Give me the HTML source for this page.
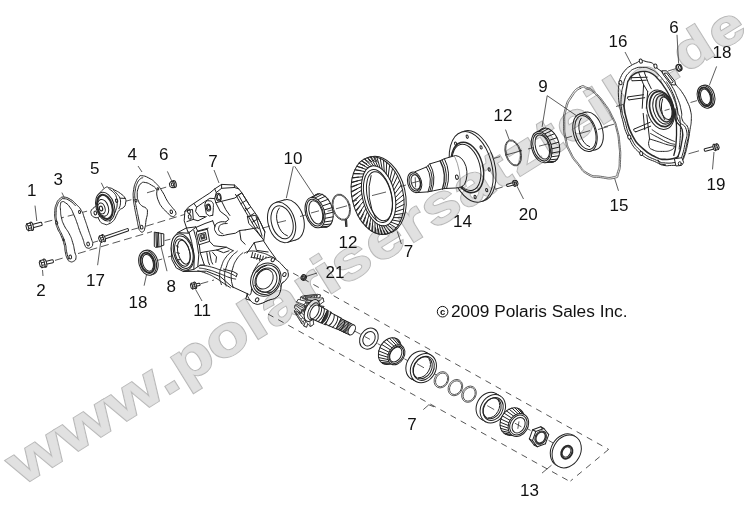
<!DOCTYPE html>
<html><head><meta charset="utf-8">
<style>
html,body{margin:0;padding:0;background:#fff;}
body{width:747px;height:505px;overflow:hidden;font-family:"Liberation Sans",sans-serif;}
svg{display:block}
.lb{font-family:"Liberation Sans",sans-serif;font-size:17px;fill:#111;text-anchor:middle}
.wmbase{font-family:"Liberation Sans",sans-serif;font-weight:bold;font-size:57px;vector-effect:non-scaling-stroke;stroke-linejoin:miter}
.wm{fill:#e1e1e1;stroke:#e1e1e1;stroke-width:0.2}
.wmo{fill:#b9b9b9;stroke:#b9b9b9;stroke-width:2.3}
.p{fill:none;stroke:#222;stroke-width:1;stroke-linecap:round;stroke-linejoin:round}
.pw{fill:#fff;stroke:#222;stroke-width:1;stroke-linejoin:round}
.ld{fill:none;stroke:#333;stroke-width:0.8}
.ds{fill:none;stroke:#444;stroke-width:0.9;stroke-dasharray:8 4}
.ds2{fill:none;stroke:#444;stroke-width:0.9;stroke-dasharray:6.2 5.4}
</style></head><body>
<svg width="747" height="505" viewBox="0 0 747 505">
<rect width="747" height="505" fill="#fff"/>
<!--PARTS-->
<g id="parts">
<line class="ds" x1="44.5" y1="222.3" x2="93.0" y2="209.6"/>
<line class="ds" x1="112.0" y1="204.8" x2="136.0" y2="198.5"/>
<line class="ds" x1="147.0" y1="192.8" x2="170.0" y2="186.0"/>
<line class="ds" x1="55.0" y1="260.4" x2="152.0" y2="231.6"/>
<line class="ds" x1="146.0" y1="226.2" x2="190.0" y2="212.8"/>
<line class="ds" x1="131.5" y1="229.8" x2="139.5" y2="227.6"/>
<line class="ds" x1="90.5" y1="243.2" x2="98.0" y2="241.0"/>
<line class="ds2" x1="283.0" y1="267.5" x2="608.6" y2="449.4"/>
<line class="ds2" x1="608.6" y1="449.4" x2="570.5" y2="481.0"/>
<line class="ds2" x1="268.0" y1="314.0" x2="569.0" y2="481.0"/>
<line class="ld" x1="35.0" y1="205.6" x2="36.8" y2="221.0"/>
<line class="ld" x1="42.5" y1="270.0" x2="43.0" y2="276.0"/>
<line class="ld" x1="61.9" y1="192.6" x2="64.2" y2="197.4"/>
<line class="ld" x1="97.6" y1="265.2" x2="100.7" y2="242.3"/>
<line class="ld" x1="101.3" y1="182.8" x2="104.0" y2="188.4"/>
<line class="ld" x1="138.0" y1="166.0" x2="142.0" y2="172.0"/>
<line class="ld" x1="167.4" y1="171.4" x2="171.7" y2="180.9"/>
<line class="ld" x1="214.0" y1="170.0" x2="219.0" y2="183.0"/>
<line class="ld" x1="167.0" y1="271.2" x2="161.0" y2="246.6"/>
<line class="ld" x1="144.1" y1="285.7" x2="146.5" y2="274.8"/>
<line class="ld" x1="202.0" y1="301.0" x2="195.6" y2="289.5"/>
<line class="ld" x1="293.3" y1="166.3" x2="286.3" y2="198.2"/>
<line class="ld" x1="294.7" y1="166.3" x2="314.0" y2="195.5"/>
<line class="ld" x1="346.0" y1="220.4" x2="346.5" y2="227.0"/>
<line class="ld" x1="317.0" y1="273.0" x2="306.0" y2="276.5"/>
<line class="ld" x1="401.4" y1="244.0" x2="397.3" y2="231.5"/>
<line class="ld" x1="505.5" y1="129.6" x2="509.3" y2="139.9"/>
<line class="ld" x1="523.5" y1="199.0" x2="517.0" y2="186.2"/>
<line class="ld" x1="547.2" y1="95.7" x2="542.1" y2="126.9"/>
<line class="ld" x1="547.2" y1="95.7" x2="579.9" y2="118.0"/>
<line class="ld" x1="618.5" y1="190.8" x2="614.6" y2="178.3"/>
<line class="ld" x1="625.0" y1="52.0" x2="631.5" y2="64.5"/>
<line class="ld" x1="677.0" y1="34.8" x2="678.6" y2="63.3"/>
<line class="ld" x1="716.6" y1="66.4" x2="709.3" y2="85.4"/>
<line class="ld" x1="712.5" y1="169.4" x2="714.0" y2="152.0"/>
<line class="ld" x1="423.3" y1="409.6" x2="428.8" y2="404.8"/>
<line class="ld" x1="428.8" y1="404.8" x2="434.0" y2="406.8"/>
<line class="ld" x1="542.0" y1="473.1" x2="551.5" y2="465.2"/>
<g transform="translate(29.6,226.8) rotate(-14)">
<rect class="pw" x="2.2" y="-1.7" width="10.5" height="3.4" rx="0.8"/>
<ellipse class="pw" cx="2.0" cy="0" rx="1.7" ry="4.3"/>
<path class="pw" d="M-3.3 -1.9 L-1.9 -3.7 L1.7 -3.5 L1.7 3.5 L-1.9 3.7 L-3.3 1.9 Z"/>
<path class="p" d="M-1.9 -3.7 L-1.3 -1.1 L-1.3 1.5 L-1.9 3.7 M-1.3 -1.1 L1.7 -1.1 M-1.3 1.5 L1.7 1.5"/>
</g>
<g transform="translate(42.9,263.6) rotate(-14)">
<rect class="pw" x="2.2" y="-1.5" width="8.5" height="3.0" rx="0.8"/>
<ellipse class="pw" cx="2.0" cy="0" rx="1.7" ry="4.3"/>
<path class="pw" d="M-3.3 -1.9 L-1.9 -3.7 L1.7 -3.5 L1.7 3.5 L-1.9 3.7 L-3.3 1.9 Z"/>
<path class="p" d="M-1.9 -3.7 L-1.3 -1.1 L-1.3 1.5 L-1.9 3.7 M-1.3 -1.1 L1.7 -1.1 M-1.3 1.5 L1.7 1.5"/>
</g>
<path class="pw" d="M63.5 197.1 C66.7 197.3 66.5 197.2 70.3 199.3 C74.1 201.5 72.9 201.1 76.2 204.4 C79.5 207.7 78.7 206.0 81.2 210.3 C83.8 214.6 82.6 213.1 84.6 218.7 C86.6 224.3 86.0 222.8 88.0 228.8 C90.0 234.9 89.9 234.4 91.4 238.9 C92.8 243.5 92.9 241.5 92.7 244.0 C92.5 246.5 92.5 246.2 90.8 247.4 C89.2 248.5 89.0 248.6 87.1 247.9 C85.3 247.2 86.0 247.7 84.8 245.0 C83.5 242.3 84.5 243.3 82.9 238.9 C81.4 234.6 81.3 235.3 79.6 230.5 C77.8 225.7 78.8 227.7 77.0 222.9 C75.3 218.1 75.7 219.0 73.7 214.5 C71.6 209.9 72.7 211.2 70.3 207.8 C67.9 204.3 68.1 204.6 65.6 202.9 C63.0 201.1 63.4 201.3 61.9 201.9 C60.3 202.4 60.9 202.0 60.5 204.6 C60.1 207.1 60.2 206.3 60.5 210.3 C60.8 214.3 60.4 213.3 61.5 217.9 C62.6 222.4 61.9 220.6 64.2 225.5 C66.5 230.3 66.7 228.8 69.3 233.9 C71.8 238.9 71.0 237.0 72.6 242.3 C74.3 247.6 73.7 247.0 74.7 251.6 C75.7 256.1 76.3 254.6 76.0 257.5 C75.7 260.4 75.6 260.1 73.7 261.2 C71.7 262.3 71.5 262.2 69.4 261.2 C67.4 260.2 68.2 260.7 66.9 257.8 C65.6 254.9 66.1 255.7 65.2 251.6 C64.4 247.4 65.3 248.8 64.0 244.0 C62.8 239.2 62.9 240.1 61.0 235.6 C59.1 231.0 59.3 233.1 57.6 228.8 C56.0 224.5 56.3 226.3 55.5 221.2 C54.6 216.2 54.5 217.3 54.8 212.0 C55.1 206.7 54.9 207.5 56.5 203.5 C58.0 199.6 57.7 200.7 59.8 198.8 C62.0 196.9 60.4 197.0 63.5 197.1 Z" />
<path class="p" d="M68.6 259.2 C68.0 256.9 67.5 256.1 66.6 251.6 C65.6 247.0 66.7 248.8 65.4 244.0 C64.1 239.2 64.3 240.2 62.4 235.6 C60.4 230.9 60.7 232.8 59.0 228.5 C57.3 224.2 57.7 226.1 56.8 221.2 C55.9 216.4 55.9 217.3 56.1 212.3 C56.4 207.3 56.3 208.2 57.6 204.6 C59.0 200.9 58.8 201.9 60.7 200.2 C62.5 198.4 61.1 198.5 63.9 198.7 C66.7 198.9 66.5 198.8 69.9 200.8 C73.4 202.9 73.7 204.1 75.3 205.6" />
<ellipse class="pw" cx="70.3" cy="257.0" rx="1.3" ry="1.9" transform="rotate(-15 70.3 257.0)" />
<ellipse class="pw" cx="88.1" cy="244.0" rx="1.3" ry="1.9" transform="rotate(-15 88.1 244.0)" />
<ellipse class="pw" cx="79.6" cy="212.0" rx="1.0" ry="1.5" transform="rotate(-15 79.6 212.0)" />
<ellipse class="pw" cx="56.8" cy="222.8" rx="0.9" ry="1.4" transform="rotate(-15 56.8 222.8)" />
<ellipse class="pw" cx="63.5" cy="239.9" rx="0.6" ry="0.9" transform="rotate(-15 63.5 239.9)" />
<path class="pw" d="M104.5 188.3 C107.6 185.8 107.1 187.4 109.8 187.9 C112.4 188.4 111.7 188.5 114.5 190.0 C117.4 191.5 117.6 191.3 120.4 193.4 C123.2 195.6 123.6 195.5 125.0 198.0 C126.4 200.5 125.9 200.5 125.6 203.0 C125.3 205.4 125.5 205.2 123.9 207.1 C122.2 209.1 121.3 208.0 119.3 210.2 C117.3 212.4 118.0 212.6 116.4 215.3 C114.9 218.1 115.6 218.2 113.6 220.5 C111.5 222.8 111.2 222.9 108.8 223.9 C106.4 224.9 107.1 225.1 104.5 224.1 C102.0 223.1 101.2 223.7 99.3 220.1 C97.4 216.5 97.6 216.7 97.4 210.6 C97.1 204.5 96.4 203.2 98.3 197.2 C100.2 191.3 101.5 190.8 104.5 188.3 Z" />
<path class="p" d="M108.8 188.7 C110.1 189.7 111.5 190.2 113.6 192.5 C115.6 194.8 115.5 194.2 116.4 197.2 C117.4 200.3 117.4 200.3 117.2 203.9 C117.0 207.5 116.9 207.0 115.7 210.6 C114.4 214.1 114.2 214.2 112.6 217.2 C111.0 220.3 110.4 220.7 109.6 222.0" />
<path class="p" d="M113.6 190.4 C114.6 191.4 115.7 192.3 117.4 194.4 C119.1 196.5 119.0 195.7 119.9 198.2 C120.7 200.7 120.7 201.1 120.4 203.9 C120.2 206.7 119.3 207.4 118.9 208.7" />
<ellipse class="p" cx="116.6" cy="200.7" rx="1.1" ry="1.7" transform="rotate(-16 116.6 200.7)" />
<path class="p" d="M120.4 198.2 L125.2 198.4" />
<path class="pw" d="M96.4 205.8 C95.2 206.8 93.3 207.6 91.9 209.6 C90.4 211.7 90.6 211.5 91.1 213.4 C91.6 215.4 91.6 215.8 93.6 216.9 C95.5 217.9 96.6 218.1 98.3 217.4 C100.1 216.8 99.7 215.2 100.2 214.4" />
<ellipse class="p" cx="95.3" cy="213.0" rx="1.3" ry="1.9" transform="rotate(-16 95.3 213.0)" />
<ellipse class="pw" cx="105.2" cy="206.6" rx="9.2" ry="14.6" transform="rotate(-16 105.2 206.6)" />
<ellipse class="p" cx="104.9" cy="206.9" rx="7.4" ry="12.4" transform="rotate(-16 104.9 206.9)" style="stroke-width:2.1;stroke:#2a2a2a"/>
<ellipse class="pw" cx="103.0" cy="207.8" rx="5.4" ry="8.6" transform="rotate(-16 103.0 207.8)" />
<ellipse class="p" cx="101.6" cy="208.4" rx="3.4" ry="5.6" transform="rotate(-16 101.6 208.4)" />
<ellipse class="p" cx="101.0" cy="208.6" rx="1.6" ry="2.4" transform="rotate(-16 101.0 208.6)" style="stroke-width:1.2"/>
<path class="pw" d="M141.7 175.7 C144.5 176.0 144.8 175.8 148.8 178.0 C152.9 180.2 152.2 179.6 156.0 183.4 C159.7 187.2 158.9 186.3 162.2 191.4 C165.5 196.4 164.5 196.4 167.5 201.2 C170.6 206.0 170.6 205.2 172.9 208.3 C175.2 211.4 175.2 210.0 175.7 212.1 C176.3 214.1 176.1 214.5 174.8 215.6 C173.6 216.8 173.4 217.0 171.3 216.2 C169.2 215.4 170.1 215.3 167.5 212.8 C165.0 210.3 164.7 210.7 162.2 207.4 C159.7 204.2 160.1 204.7 158.6 201.2 C157.1 197.7 157.5 198.3 156.8 195.0 C156.2 191.6 157.8 192.0 156.3 189.3 C154.8 186.5 154.6 187.1 151.5 185.2 C148.4 183.2 148.2 183.0 145.3 182.5 C142.3 182.0 143.1 181.9 141.2 183.4 C139.2 184.9 139.4 184.5 138.3 187.8 C137.2 191.1 137.2 191.2 137.2 195.0 C137.3 198.7 137.2 198.2 138.5 201.2 C139.7 204.2 139.5 203.6 141.7 205.7 C143.9 207.7 144.5 206.3 146.1 208.3 C147.8 210.3 147.4 209.5 147.4 212.8 C147.4 216.1 146.9 215.6 146.1 219.9 C145.4 224.2 145.8 224.6 144.9 227.9 C144.0 231.3 144.4 230.8 143.1 231.7 C141.8 232.6 141.6 232.5 140.3 231.1 C139.0 229.8 139.5 230.7 138.5 227.0 C137.5 223.4 137.8 223.7 136.7 218.1 C135.6 212.6 135.5 213.0 134.6 207.4 C133.6 201.9 133.6 203.6 133.3 198.5 C133.1 193.5 132.9 194.4 133.7 189.6 C134.4 184.8 134.5 185.1 136.0 181.6 C137.5 178.1 137.4 178.8 139.0 177.1 C140.6 175.5 138.9 175.5 141.7 175.7 Z" />
<path class="p" d="M140.6 228.8 C140.0 225.8 139.7 224.2 138.5 218.1 C137.3 212.1 137.4 213.0 136.3 207.4 C135.3 201.9 135.2 203.5 134.9 198.5 C134.6 193.6 134.6 194.4 135.3 190.0 C136.0 185.5 136.0 186.0 137.4 182.8 C138.8 179.7 138.8 180.3 140.3 178.9 C141.8 177.5 142.1 178.1 142.8 177.8" />
<ellipse class="pw" cx="136.0" cy="200.7" rx="0.9" ry="1.4" transform="rotate(-15 136.0 200.7)" />
<ellipse class="pw" cx="141.7" cy="227.2" rx="1.3" ry="1.9" transform="rotate(-15 141.7 227.2)" />
<ellipse class="pw" cx="171.3" cy="211.7" rx="1.2" ry="1.8" transform="rotate(-15 171.3 211.7)" />
<ellipse class="pw" cx="157.9" cy="188.9" rx="0.8" ry="1.2" transform="rotate(-15 157.9 188.9)" />
<g transform="translate(172.6,184.4) rotate(-14)">
<ellipse class="pw" cx="1.2" cy="0" rx="2.5" ry="3.6"/>
<path class="pw" d="M-3.0 -1.5 L-1.2 -3.1 L1.6 -2.6 L2.3 0 L1.6 2.6 L-1.2 3.1 L-3.0 1.5 Z"/>
<ellipse class="p" cx="-0.2" cy="0" rx="1.1" ry="1.6"/>
</g>
<g transform="translate(101.9,238.7) rotate(-19)">
<rect class="pw" x="2.0" y="-1.3" width="26.0" height="2.6" rx="0.8"/>
<ellipse class="pw" cx="1.8" cy="0" rx="1.5" ry="3.8"/>
<path class="pw" d="M-3.0 -1.6 L-1.6 -3.3 L1.5 -3.1 L1.5 3.1 L-1.6 3.3 L-3.0 1.6 Z"/>
<path class="p" d="M-1.6 -3.3 L-1.2 -1.0 L-1.2 1.3 L-1.6 3.3 M-1.2 -1.0 L1.5 -1.0 M-1.2 1.3 L1.5 1.3"/>
</g>
<path class="pw" d="M154.3 232.1 L163.8 233.9 L163.8 245.2 L159.7 246.6 L155.5 247.3 L154.3 246.4 Z" />
<line class="p" x1="155.9" y1="232.6" x2="156.4" y2="247.1"/>
<line class="p" x1="157.1" y1="232.6" x2="157.6" y2="247.1"/>
<line class="p" x1="158.5" y1="232.6" x2="159.0" y2="247.1"/>
<line class="p" x1="161.1" y1="233.6" x2="161.4" y2="246.1"/>
<line class="ld" x1="164.6" y1="240.6" x2="170.4" y2="239.2"/>
<ellipse class="pw" cx="149.2" cy="262.4" rx="8.6" ry="12.6" transform="rotate(-16 149.2 262.4)" />
<ellipse class="pw" cx="147.6" cy="262.8" rx="8.6" ry="12.6" transform="rotate(-16 147.6 262.8)" />
<ellipse class="p" cx="147.6" cy="262.8" rx="6.7" ry="10.3" transform="rotate(-16 147.6 262.8)" style="stroke-width:2.0;stroke:#2a2a2a"/>
<ellipse class="p" cx="147.9" cy="262.8" rx="5.2" ry="8.6" transform="rotate(-16 147.9 262.8)" />
<line class="ld" x1="156.8" y1="260.6" x2="162.2" y2="259.0"/>
<line class="ld" x1="168.0" y1="257.0" x2="171.6" y2="256.0"/>
<path class="pw" d="M214.7 188.9 L221.6 184.4 L234.4 185.0 L238.8 188.9 L241.8 192.8 L249.3 204.8 L257.7 216.6 L264.9 231.9 L263.8 240.2 L263.4 240.7 L268.9 249.0 L275.9 258.7 L274.0 258.8 L283.7 266.9 L288.1 273.9 L285.2 280.3 L281.4 284.0 L280.3 291.4 L276.2 297.4 L268.1 300.3 L260.6 303.6 L255.4 303.6 L250.2 300.3 L247.3 293.7 L231.5 286.4 L220.4 276.7 L206.6 271.2 L183.3 271.5 L176.3 268.0 L171.9 259.7 L171.1 248.6 L172.9 238.9 L177.7 232.6 L188.3 233.2 L184.2 220.8 L184.9 211.3 L188.3 207.2 L193.9 203.4 L202.2 197.9 L209.8 193.0 Z" />
<ellipse class="pw" cx="182.6" cy="252.0" rx="10.8" ry="18.6" transform="rotate(-14 182.6 252.0)" />
<ellipse class="p" cx="183.2" cy="252.2" rx="9.4" ry="16.6" transform="rotate(-14 183.2 252.2)" />
<ellipse class="p" cx="182.4" cy="252.6" rx="7.3" ry="14.0" transform="rotate(-14 182.4 252.6)" />
<ellipse class="p" cx="183.8" cy="252.2" rx="5.8" ry="12.2" transform="rotate(-14 183.8 252.2)" />
<path class="p" d="M177.7 232.6 L186.0 228.1 L195.7 226.9" />
<path class="p" d="M188.8 231.7 L191.6 241.6 L194.3 256.9 L193.8 269.4" />
<path class="p" d="M193.8 230.3 L196.6 240.3 L198.8 254.8 L197.8 266.6" />
<path class="p" d="M183.3 271.5 L193.8 269.4 L200.2 265.2 L204.3 264.9" />
<path class="p" d="M195.7 226.9 L197.7 231.1 L208.2 228.1" />
<path class="p" d="M176.3 245.8 L178.4 246.9" />
<path class="p" d="M176.9 252.7 L179.4 253.3" />
<path class="p" d="M177.7 259.7 L179.9 259.7" />
<path class="p" d="M196.6 231.9 L207.4 229.2 L209.6 241.4 L199.3 244.7 Z" />
<path class="p" d="M198.8 234.2 L205.4 232.5 L206.8 239.4 L200.5 241.4 Z" />
<path d="M200.2 235.0 L204.3 233.9 L205.2 238.3 L201.3 239.4 Z" fill="#444" stroke="#222" stroke-width="0.6"/>
<path d="M201.6 235.5 L202.9 235.3 L203.2 236.6 L201.8 236.9 Z" fill="#fff" stroke="none"/>
<path class="p" d="M199.3 244.7 L200.2 252.7 L204.3 264.9" />
<path class="p" d="M209.6 241.4 L213.8 245.8 L226.2 247.2 L233.2 250.7" />
<path class="p" d="M200.2 252.7 L208.2 251.3 L216.5 250.0 L226.2 247.2" />
<path class="p" d="M206.8 252.7 L208.2 261.3 L209.6 264.9" />
<path class="p" d="M209.6 252.5 L211.3 261.3 L212.7 264.1" />
<path class="p" d="M212.7 252.5 L216.5 256.9 L215.8 262.4" />
<path class="p" d="M216.5 250.0 L223.5 252.7 L229.0 250.8" />
<path class="p" d="M200.2 265.2 C202.8 265.6 203.8 265.2 209.6 266.6 C215.4 268.0 214.8 268.1 220.7 270.1 C226.6 272.0 226.0 271.7 230.4 273.5 C234.8 275.4 234.6 275.7 236.2 276.6" />
<path class="p" d="M199.2 268.0 C201.8 268.5 202.5 268.1 208.2 269.7 C213.9 271.2 213.4 271.3 219.3 273.5 C225.2 275.7 224.4 275.8 229.0 277.4 C233.7 279.0 233.8 278.6 235.7 279.1" />
<path class="p" d="M236.2 276.6 L237.3 273.8 L233.2 271.6 L223.5 269.1" />
<path class="p" d="M197.8 270.8 C200.4 271.5 201.9 271.6 206.8 273.5 C211.7 275.5 210.4 274.9 215.2 277.7 C219.9 280.4 219.1 280.4 223.5 283.2 C227.8 286.1 228.4 286.4 230.4 287.7" />
<path class="p" d="M233.2 250.7 C231.2 252.4 229.6 252.4 226.2 256.9 C222.9 261.4 223.3 261.1 221.4 266.6 C219.5 272.1 219.6 271.2 219.6 276.3 C219.6 281.4 220.9 282.3 221.4 284.6" />
<path class="p" d="M237.3 251.3 C235.5 253.2 233.8 253.2 230.7 257.7 C227.5 262.3 228.0 262.1 226.2 267.4 C224.5 272.8 224.6 271.3 224.6 276.6 C224.6 281.9 225.8 283.3 226.2 286.0" />
<path class="p" d="M242.9 252.7 C241.2 254.5 239.7 254.6 236.8 259.1 C233.9 263.7 234.2 263.5 232.6 268.8 C231.1 274.2 231.1 272.6 231.2 278.0 C231.4 283.3 232.6 284.9 233.2 287.7" />
<path class="p" d="M214.7 188.9 L216.3 192.5 L221.6 188.3 L234.4 187.5 L238.8 188.9" />
<path class="p" d="M216.3 192.5 L214.7 198.6 L215.8 202.7 L221.6 201.3 L234.9 198.0 L241.8 192.8" />
<path class="p" d="M221.6 188.3 L221.6 184.4" />
<path class="p" d="M234.4 187.5 L234.4 185.0" />
<ellipse class="pw" cx="218.6" cy="197.2" rx="2.5" ry="3.9" transform="rotate(-12 218.6 197.2)" />
<ellipse class="p" cx="218.9" cy="197.2" rx="1.5" ry="2.7" transform="rotate(-12 218.9 197.2)" />
<ellipse class="pw" cx="208.4" cy="207.6" rx="2.2" ry="3.5" transform="rotate(-12 208.4 207.6)" />
<ellipse class="p" cx="208.7" cy="207.6" rx="1.3" ry="2.3" transform="rotate(-12 208.7 207.6)" />
<path class="p" d="M205.0 205.8 C205.2 204.7 204.6 203.5 205.8 202.0 C207.0 200.6 207.2 200.6 209.1 200.8 C211.1 201.0 211.5 200.8 212.7 202.7 C213.9 204.7 213.3 204.2 213.3 207.7 C213.3 211.3 212.9 213.1 212.7 215.2" />
<path class="p" d="M205.0 205.8 L206.3 213.8 L209.4 216.0 L212.7 215.2" />
<path class="p" d="M193.9 203.4 L196.6 207.2 L202.2 203.4 L209.8 198.3 L214.7 198.6" />
<path class="p" d="M196.6 207.2 L195.5 211.3 L199.4 216.6 L205.0 216.6" />
<ellipse class="pw" cx="188.9" cy="211.3" rx="1.4" ry="2.3" transform="rotate(-12 188.9 211.3)" />
<ellipse class="pw" cx="189.7" cy="216.9" rx="1.4" ry="2.3" transform="rotate(-12 189.7 216.9)" />
<path class="p" d="M184.9 211.3 L192.5 209.4 L193.3 219.4 L186.9 221.6" />
<path class="p" d="M188.3 233.2 L195.3 227.7 L205.0 223.5 L212.7 220.8" />
<path class="p" d="M193.3 219.4 L198.0 220.8 L206.3 216.6" />
<path class="p" d="M225.8 221.9 C223.8 222.0 221.9 221.1 218.8 222.4 C215.8 223.8 215.8 223.8 214.9 226.6 C214.1 229.3 214.3 229.6 215.8 232.1 C217.3 234.6 217.0 234.8 220.2 235.5 C223.4 236.2 225.2 234.9 227.2 234.6" />
<path class="p" d="M227.2 223.5 C225.6 223.8 224.0 223.2 221.6 224.4 C219.2 225.5 219.4 225.7 218.8 227.7 C218.3 229.7 218.5 229.9 219.7 231.6 C220.8 233.3 222.0 233.2 223.0 233.8" />
<path class="p" d="M215.8 202.7 L220.2 211.3 L227.2 216.6 L228.8 219.4 L225.8 221.9" />
<path class="p" d="M221.6 201.3 L225.8 209.7 L229.9 215.5" />
<path class="p" d="M227.2 234.6 L235.5 233.2 L239.6 230.5 L245.2 229.9" />
<path class="p" d="M212.7 220.8 L214.9 226.6" />
<path class="p" d="M235.5 194.4 L242.7 206.9 L249.3 218.0 L256.0 229.4 L261.8 237.7" />
<path class="p" d="M238.8 195.8 L246.0 208.0 L252.7 219.1 L258.5 228.8" />
<path class="p" d="M241.8 192.8 L249.3 204.8" />
<path class="p" d="M236.6 195.8 L241.0 193.3" />
<path class="p" d="M241.0 203.6 L246.0 200.5" />
<path class="p" d="M245.2 210.5 L250.4 207.2" />
<path class="p" d="M248.8 216.6 L254.3 213.3" />
<path class="p" d="M252.1 222.4 L257.9 218.8" />
<path class="p" d="M245.2 208.3 L247.4 209.9" />
<path class="p" d="M252.1 219.4 L254.3 221.0" />
<path class="p" d="M247.4 216.6 L256.0 215.2 L260.4 222.2 L264.9 231.9" />
<path class="p" d="M247.4 216.6 L248.8 223.5 L254.9 229.4 L261.8 237.7 L263.8 240.2" />
<path class="p" d="M256.0 216.6 L262.1 236.0" />
<path class="p" d="M239.6 230.5 L241.0 240.2 L245.2 244.3" />
<path class="p" d="M245.2 229.9 L257.7 227.7" />
<path class="p" d="M263.4 240.7 L254.2 242.6 L247.0 253.1" />
<path class="p" d="M254.2 242.6 L256.5 250.4 L268.1 252.0" />
<path class="p" d="M244.3 253.1 C246.2 252.5 246.5 251.2 251.1 251.0 C255.8 250.9 255.8 251.3 260.6 252.5 C265.5 253.7 264.6 253.4 268.4 255.2 C272.2 257.0 272.4 257.8 274.0 258.8" />
<path class="p" d="M252.6 252.5 L251.4 257.3" />
<path class="p" d="M255.3 253.4 L254.1 258.3" />
<path class="p" d="M258.0 254.3 L256.8 259.4" />
<path class="p" d="M260.6 255.2 L259.5 260.4" />
<path class="p" d="M263.3 256.1 L262.1 261.4" />
<path class="p" d="M266.0 257.0 L264.8 262.5" />
<path class="p" d="M251.1 257.3 C253.4 257.7 254.8 257.6 259.2 258.8 C263.5 259.9 264.5 260.7 266.6 261.4" />
<path class="pw" d="M269.6 257.3 C273.0 256.9 271.1 256.2 274.9 258.8 C278.7 261.3 280.3 262.7 283.8 266.8 C287.4 270.8 287.8 270.3 288.3 273.9 C288.7 277.5 287.4 277.5 285.6 280.2 C283.8 282.8 282.9 281.0 281.4 284.0 C280.0 287.0 281.6 287.9 280.3 291.4 C278.9 295.0 279.6 295.0 276.4 297.4 C273.2 299.8 272.6 298.7 268.4 300.3 C264.2 302.0 264.1 302.7 260.6 303.6 C257.2 304.6 258.4 304.8 255.6 303.9 C252.8 303.0 252.5 303.0 250.2 300.3 C248.0 297.7 247.2 295.4 247.3 293.8 C247.4 292.2 249.4 296.6 250.5 294.4 C251.7 292.2 251.3 290.3 251.7 285.5 C252.1 280.7 250.8 281.7 252.0 276.6 C253.2 271.5 253.5 270.8 256.2 266.5 C258.9 262.1 258.6 262.7 262.1 260.2 C265.7 257.8 266.2 257.7 269.6 257.3 Z" />
<ellipse class="pw" cx="265.8" cy="279.6" rx="14.6" ry="17.2" transform="rotate(29.35 265.8 279.6)" />
<ellipse class="p" cx="266.2" cy="279.8" rx="12.8" ry="15.2" transform="rotate(29.35 266.2 279.8)" />
<ellipse class="p" cx="266.0" cy="280.2" rx="10.4" ry="12.6" transform="rotate(29.35 266.0 280.2)" />
<ellipse class="p" cx="264.6" cy="279.2" rx="8.0" ry="10.4" transform="rotate(29.35 264.6 279.2)" />
<path class="p" d="M254.7 285.5 Q260.6 294.4 271.0 292.2" />
<path class="p" d="M256.9 272.1 Q259.9 266.9 266.6 265.4" />
<ellipse class="pw" cx="284.4" cy="274.5" rx="1.6" ry="2.1" transform="rotate(29.35 284.4 274.5)" />
<ellipse class="pw" cx="257.1" cy="299.8" rx="1.6" ry="2.1" transform="rotate(29.35 257.1 299.8)" />
<ellipse class="pw" cx="272.8" cy="259.7" rx="1.6" ry="2.1" transform="rotate(29.35 272.8 259.7)" />
<path class="p" d="M247.3 293.8 L245.8 298.9 L250.2 300.3" />
<g transform="translate(193.4,285.8) rotate(-14)">
<rect class="pw" x="1.8" y="-1.2" width="5.0" height="2.4" rx="0.8"/>
<ellipse class="pw" cx="1.7" cy="0" rx="1.4" ry="3.4"/>
<path class="pw" d="M-2.7 -1.5 L-1.5 -3.0 L1.4 -2.8 L1.4 2.8 L-1.5 3.0 L-2.7 1.5 Z"/>
<path class="p" d="M-1.5 -3.0 L-1.0 -0.9 L-1.0 1.2 L-1.5 3.0 M-1.0 -0.9 L1.4 -0.9 M-1.0 1.2 L1.4 1.2"/>
</g>
<line class="ds" x1="200.5" y1="283.8" x2="214.0" y2="280.0"/>
<ellipse class="pw" cx="290.2" cy="219.9" rx="13.4" ry="20.8" transform="rotate(-16.3 290.2 219.9)" />
<path d="M287.4 242.4 L296.1 239.8 L284.4 199.9 L275.8 202.4 Z" fill="#fff" stroke="none"/>
<line class="p" x1="287.4" y1="242.4" x2="296.1" y2="239.8"/>
<line class="p" x1="275.8" y1="202.4" x2="284.4" y2="199.9"/>
<ellipse class="pw" cx="281.6" cy="222.4" rx="13.4" ry="20.8" transform="rotate(-16.3 281.6 222.4)" />
<ellipse class="p" cx="282.1" cy="222.3" rx="10.5" ry="16.9" transform="rotate(-16.3 282.1 222.3)" />
<path class="p" d="M279.3 208.0 A9.7 15.7 -16.3 0 0 287.4 235.8"/>
<line class="ld" x1="270.0" y1="226.0" x2="262.0" y2="228.3"/>
<line class="ld" x1="277.0" y1="222.8" x2="286.0" y2="220.6"/>
<ellipse class="pw" cx="322.2" cy="210.5" rx="10.3" ry="17.2" transform="rotate(-16.3 322.2 210.5)" />
<path d="M319.4 227.6 L327.0 227.0 L317.4 194.0 L310.6 197.6 Z" fill="#fff" stroke="none"/>
<line class="p" x1="319.4" y1="227.6" x2="327.0" y2="227.0"/>
<line class="p" x1="310.6" y1="197.6" x2="317.4" y2="194.0"/>
<line class="p" x1="312.3" y1="197.4" x2="319.2" y2="193.8"/>
<line class="p" x1="315.0" y1="198.0" x2="322.2" y2="194.4"/>
<line class="p" x1="317.8" y1="199.7" x2="325.3" y2="196.3"/>
<line class="p" x1="320.3" y1="202.4" x2="328.1" y2="199.3"/>
<line class="p" x1="322.5" y1="205.9" x2="330.4" y2="203.2"/>
<line class="p" x1="324.0" y1="210.0" x2="332.1" y2="207.6"/>
<line class="p" x1="324.9" y1="214.2" x2="333.1" y2="212.2"/>
<line class="p" x1="325.0" y1="218.3" x2="333.2" y2="216.8"/>
<line class="p" x1="324.3" y1="222.0" x2="332.4" y2="220.8"/>
<line class="p" x1="322.9" y1="224.9" x2="330.9" y2="224.0"/>
<line class="p" x1="320.9" y1="226.9" x2="328.7" y2="226.2"/>
<ellipse class="pw" cx="315.0" cy="212.6" rx="9.4" ry="15.6" transform="rotate(-16.3 315.0 212.6)" />
<ellipse class="p" cx="315.0" cy="212.6" rx="8.0" ry="13.8" transform="rotate(-16.3 315.0 212.6)" />
<ellipse class="p" cx="315.8" cy="212.4" rx="6.4" ry="12.0" transform="rotate(-16.3 315.8 212.4)" />
<line class="ld" x1="300.0" y1="216.5" x2="306.0" y2="214.8"/>
<line class="ld" x1="311.0" y1="213.0" x2="319.0" y2="210.8"/>
<ellipse class="p" cx="341.3" cy="207.2" rx="8.8" ry="13.4" transform="rotate(-16.3 341.3 207.2)" style="stroke-width:0.8;stroke:#333"/>
<ellipse class="p" cx="341.3" cy="207.2" rx="7.9" ry="12.5" transform="rotate(-16.3 341.3 207.2)" style="stroke-width:0.8;stroke:#333"/>
<path class="p" d="M345.2 219.6 L345.8 226.6 M346.6 219.4 L347 226.4" />
<line class="ld" x1="336.0" y1="208.8" x2="347.0" y2="205.8"/>
<line class="ld" x1="327.5" y1="211.2" x2="332.0" y2="210.0"/>
<ellipse class="pw" cx="379.7" cy="195.1" rx="25.6" ry="39.4" transform="rotate(-13 379.7 195.1)" />
<ellipse class="pw" cx="377.6" cy="195.6" rx="25.6" ry="39.4" transform="rotate(-13 377.6 195.6)" />
<ellipse class="p" cx="378.6" cy="195.8" rx="16.2" ry="30.6" transform="rotate(-13 378.6 195.8)" />
<ellipse class="p" cx="378.0" cy="196.0" rx="13.6" ry="27.0" transform="rotate(-13 378.0 196.0)" />
<ellipse class="p" cx="379.4" cy="196.2" rx="12.0" ry="25.0" transform="rotate(-13 379.4 196.2)" />
<path class="p" d="M371.1 175.6 Q364.6 197.6 376.6 220.6" />
<line class="p" x1="402.5" y1="189.8" x2="395.4" y2="197.6"/>
<line class="p" x1="403.5" y1="194.7" x2="395.7" y2="201.3"/>
<line class="p" x1="404.0" y1="199.6" x2="395.8" y2="205.0"/>
<line class="p" x1="404.1" y1="204.4" x2="395.6" y2="208.5"/>
<line class="p" x1="403.7" y1="209.0" x2="395.2" y2="211.8"/>
<line class="p" x1="403.0" y1="213.5" x2="394.5" y2="214.8"/>
<line class="p" x1="401.9" y1="217.7" x2="393.5" y2="217.6"/>
<line class="p" x1="400.3" y1="221.5" x2="392.3" y2="220.0"/>
<line class="p" x1="398.4" y1="224.9" x2="390.9" y2="222.1"/>
<line class="p" x1="396.2" y1="227.9" x2="389.3" y2="223.7"/>
<line class="p" x1="393.7" y1="230.3" x2="387.5" y2="224.9"/>
<line class="p" x1="391.0" y1="232.2" x2="385.6" y2="225.6"/>
<line class="p" x1="391.9" y1="232.5" x2="388.8" y2="229.5"/>
<line class="p" x1="388.0" y1="233.6" x2="383.6" y2="225.8"/>
<line class="p" x1="388.9" y1="233.9" x2="386.3" y2="230.2"/>
<line class="p" x1="384.9" y1="234.3" x2="381.5" y2="225.6"/>
<line class="p" x1="385.8" y1="234.6" x2="383.7" y2="230.4"/>
<line class="p" x1="381.6" y1="234.4" x2="379.3" y2="224.9"/>
<line class="p" x1="382.5" y1="234.7" x2="380.9" y2="230.1"/>
<line class="p" x1="378.3" y1="233.9" x2="377.2" y2="223.8"/>
<line class="p" x1="379.2" y1="234.2" x2="378.2" y2="229.2"/>
<line class="p" x1="375.0" y1="232.8" x2="375.0" y2="222.2"/>
<line class="p" x1="375.9" y1="233.1" x2="375.5" y2="227.8"/>
<line class="p" x1="371.7" y1="231.1" x2="373.0" y2="220.2"/>
<line class="p" x1="372.6" y1="231.4" x2="372.8" y2="225.9"/>
<line class="p" x1="368.5" y1="228.9" x2="371.0" y2="217.8"/>
<line class="p" x1="369.4" y1="229.2" x2="370.2" y2="223.5"/>
<line class="p" x1="365.5" y1="226.1" x2="369.1" y2="215.0"/>
<line class="p" x1="366.4" y1="226.4" x2="367.7" y2="220.7"/>
<line class="p" x1="362.6" y1="222.8" x2="367.4" y2="212.0"/>
<line class="p" x1="363.5" y1="223.1" x2="365.5" y2="217.5"/>
<line class="p" x1="360.0" y1="219.1" x2="365.8" y2="208.7"/>
<line class="p" x1="360.9" y1="219.4" x2="363.4" y2="214.0"/>
<line class="p" x1="357.7" y1="215.1" x2="364.5" y2="205.2"/>
<line class="p" x1="358.6" y1="215.4" x2="361.6" y2="210.2"/>
<line class="p" x1="355.6" y1="210.7" x2="363.3" y2="201.6"/>
<line class="p" x1="356.5" y1="211.0" x2="360.1" y2="206.1"/>
<line class="p" x1="354.0" y1="206.1" x2="362.5" y2="197.8"/>
<line class="p" x1="354.9" y1="206.4" x2="358.8" y2="201.9"/>
<line class="p" x1="352.7" y1="201.4" x2="361.8" y2="194.0"/>
<line class="p" x1="353.6" y1="201.7" x2="357.9" y2="197.6"/>
<line class="p" x1="351.7" y1="196.5" x2="361.5" y2="190.3"/>
<line class="p" x1="352.6" y1="196.8" x2="357.3" y2="193.3"/>
<line class="p" x1="351.2" y1="191.6" x2="361.4" y2="186.6"/>
<line class="p" x1="352.1" y1="191.9" x2="357.1" y2="189.0"/>
<line class="p" x1="351.1" y1="186.8" x2="361.6" y2="183.1"/>
<line class="p" x1="352.0" y1="187.1" x2="357.2" y2="184.9"/>
<line class="p" x1="351.5" y1="182.2" x2="362.0" y2="179.8"/>
<line class="p" x1="352.4" y1="182.5" x2="357.6" y2="180.9"/>
<line class="p" x1="352.2" y1="177.7" x2="362.7" y2="176.8"/>
<line class="p" x1="353.1" y1="178.0" x2="358.4" y2="177.1"/>
<line class="p" x1="353.3" y1="173.5" x2="363.7" y2="174.0"/>
<line class="p" x1="354.2" y1="173.8" x2="359.5" y2="173.7"/>
<line class="p" x1="354.9" y1="169.7" x2="364.9" y2="171.6"/>
<line class="p" x1="355.8" y1="170.0" x2="360.9" y2="170.5"/>
<line class="p" x1="356.8" y1="166.3" x2="366.3" y2="169.5"/>
<line class="p" x1="357.7" y1="166.6" x2="362.6" y2="167.8"/>
<line class="p" x1="359.0" y1="163.3" x2="367.9" y2="167.9"/>
<line class="p" x1="359.9" y1="163.6" x2="364.6" y2="165.6"/>
<line class="p" x1="361.5" y1="160.9" x2="369.7" y2="166.7"/>
<line class="p" x1="362.4" y1="161.2" x2="366.8" y2="163.8"/>
<line class="p" x1="364.2" y1="159.0" x2="371.6" y2="166.0"/>
<line class="p" x1="365.1" y1="159.3" x2="369.2" y2="162.5"/>
<line class="p" x1="367.2" y1="157.6" x2="373.6" y2="165.8"/>
<line class="p" x1="368.1" y1="157.9" x2="371.7" y2="161.8"/>
<line class="p" x1="370.3" y1="156.9" x2="375.7" y2="166.0"/>
<line class="p" x1="371.2" y1="157.2" x2="374.3" y2="161.6"/>
<line class="p" x1="373.6" y1="156.8" x2="377.9" y2="166.7"/>
<line class="p" x1="374.5" y1="157.1" x2="377.1" y2="161.9"/>
<line class="p" x1="376.9" y1="157.3" x2="380.0" y2="167.8"/>
<line class="p" x1="380.2" y1="158.4" x2="382.2" y2="169.4"/>
<line class="p" x1="383.5" y1="160.1" x2="384.2" y2="171.4"/>
<line class="p" x1="386.7" y1="162.3" x2="386.2" y2="173.8"/>
<line class="p" x1="389.7" y1="165.1" x2="388.1" y2="176.6"/>
<line class="p" x1="392.6" y1="168.4" x2="389.8" y2="179.6"/>
<line class="p" x1="395.2" y1="172.1" x2="391.4" y2="182.9"/>
<line class="p" x1="397.5" y1="176.1" x2="392.7" y2="186.4"/>
<line class="p" x1="399.6" y1="180.5" x2="393.9" y2="190.0"/>
<line class="p" x1="401.2" y1="185.1" x2="394.7" y2="193.8"/>
<line class="ld" x1="372.0" y1="195.6" x2="386.0" y2="192.0"/>
<line class="ld" x1="352.0" y1="201.5" x2="357.0" y2="200.2"/>
<ellipse class="pw" cx="474.0" cy="166.0" rx="20.6" ry="36.2" transform="rotate(-15 474.0 166.0)" />
<ellipse class="pw" cx="471.2" cy="166.9" rx="20.6" ry="36.2" transform="rotate(-15 471.2 166.9)" />
<ellipse class="pw" cx="489.2" cy="169.5" rx="1.0" ry="1.7" transform="rotate(-15 489.2 169.5)" />
<ellipse class="pw" cx="486.7" cy="190.1" rx="1.0" ry="1.7" transform="rotate(-15 486.7 190.1)" />
<ellipse class="pw" cx="475.1" cy="197.0" rx="1.0" ry="1.7" transform="rotate(-15 475.1 197.0)" />
<ellipse class="pw" cx="461.2" cy="186.3" rx="1.0" ry="1.7" transform="rotate(-15 461.2 186.3)" />
<ellipse class="pw" cx="453.1" cy="164.2" rx="1.0" ry="1.7" transform="rotate(-15 453.1 164.2)" />
<ellipse class="pw" cx="455.6" cy="143.7" rx="1.0" ry="1.7" transform="rotate(-15 455.6 143.7)" />
<ellipse class="pw" cx="467.2" cy="136.7" rx="1.0" ry="1.7" transform="rotate(-15 467.2 136.7)" />
<ellipse class="pw" cx="481.1" cy="147.4" rx="1.0" ry="1.7" transform="rotate(-15 481.1 147.4)" />
<ellipse class="p" cx="467.4" cy="167.4" rx="15.4" ry="25.8" transform="rotate(-15 467.4 167.4)" style="stroke-width:1.5;stroke:#2a2a2a"/>
<ellipse class="p" cx="466.4" cy="167.4" rx="13.6" ry="23.6" transform="rotate(-15 466.4 167.4)" />
<path class="pw" d="M414.6 171.9 L426.4 167.0 L429.8 163.9 L440.2 160.8 L444.4 158.7 L455.5 155.5 Q462.7 156.4 466.0 166.4 Q468.5 176.3 464.6 184.1 Q462.4 187.7 455.5 188.0 L444.4 188.5 L441.6 189.1 L433.3 190.8 L427.7 191.9 L415.5 192.7 Z" />
<path class="p" d="M426.4 167.0 Q433.6 178.5 428.0 191.9" />
<path class="p" d="M428.2 165.5 Q435.4 177.6 429.8 191.6" />
<path class="p" d="M429.8 163.9 Q437.0 176.4 431.8 191.0" />
<path class="p" d="M440.2 160.8 Q447.4 174.0 442.4 189.1" style="stroke-width:1.4;stroke:#2a2a2a"/>
<path class="p" d="M442.2 160.0 Q449.4 173.4 444.4 188.8" />
<path class="p" d="M444.4 158.7 Q451.6 172.6 446.6 188.5" />
<path class="p" d="M454.4 155.8 Q461.6 170.9 459.9 188.0" style="stroke:#777;stroke-width:0.7"/>
<ellipse class="pw" cx="414.6" cy="182.3" rx="6.9" ry="10.4" transform="rotate(-15 414.6 182.3)" />
<ellipse class="p" cx="414.8" cy="182.3" rx="5.6" ry="8.8" transform="rotate(-15 414.8 182.3)" />
<ellipse class="p" cx="415.6" cy="182.1" rx="4.4" ry="7.4" transform="rotate(-15 415.6 182.1)" />
<line class="ld" x1="411.6" y1="183.1" x2="419.1" y2="181.1"/>
<line class="ld" x1="415.2" y1="177.3" x2="415.6" y2="187.3"/>
<ellipse class="p" cx="456.9" cy="177.2" rx="1.4" ry="2.2" transform="rotate(-15 456.9 177.2)" />
<line class="ld" x1="400.5" y1="186.6" x2="406.0" y2="185.0"/>
<ellipse class="p" cx="513.2" cy="152.9" rx="7.8" ry="13.4" transform="rotate(-16.3 513.2 152.9)" style="stroke-width:0.8;stroke:#333"/>
<ellipse class="p" cx="513.2" cy="152.9" rx="6.9" ry="12.5" transform="rotate(-16.3 513.2 152.9)" style="stroke-width:0.8;stroke:#333"/>
<line class="ld" x1="505.0" y1="155.2" x2="522.0" y2="150.6"/>
<line class="ld" x1="494.0" y1="158.4" x2="500.0" y2="156.6"/>
<g transform="translate(515.5,183.2) rotate(165)">
<rect class="pw" x="1.6" y="-1.2" width="7.5" height="2.4" rx="0.8"/>
<ellipse class="pw" cx="1.4" cy="0" rx="1.2" ry="3.0"/>
<path class="pw" d="M-2.3 -1.3 L-1.3 -2.6 L1.2 -2.5 L1.2 2.5 L-1.3 2.6 L-2.3 1.3 Z"/>
<path class="p" d="M-1.3 -2.6 L-0.9 -0.8 L-0.9 1.0 L-1.3 2.6 M-0.9 -0.8 L1.2 -0.8 M-0.9 1.0 L1.2 1.0"/>
</g>
<line class="ds" x1="495.0" y1="189.3" x2="504.0" y2="186.6"/>
<ellipse class="pw" cx="548.3" cy="145.2" rx="10.8" ry="17.6" transform="rotate(-16.3 548.3 145.2)" />
<path d="M546.1 162.6 L553.3 162.1 L543.4 128.3 L537.1 131.8 Z" fill="#fff" stroke="none"/>
<line class="p" x1="546.1" y1="162.6" x2="553.3" y2="162.1"/>
<line class="p" x1="537.1" y1="131.8" x2="543.4" y2="128.3"/>
<line class="p" x1="538.8" y1="131.6" x2="545.3" y2="128.1"/>
<line class="p" x1="541.7" y1="132.2" x2="548.4" y2="128.7"/>
<line class="p" x1="544.6" y1="133.9" x2="551.6" y2="130.7"/>
<line class="p" x1="547.2" y1="136.7" x2="554.5" y2="133.7"/>
<line class="p" x1="549.4" y1="140.3" x2="556.9" y2="137.7"/>
<line class="p" x1="551.0" y1="144.4" x2="558.7" y2="142.2"/>
<line class="p" x1="551.9" y1="148.8" x2="559.6" y2="147.0"/>
<line class="p" x1="552.0" y1="153.0" x2="559.7" y2="151.6"/>
<line class="p" x1="551.2" y1="156.8" x2="558.9" y2="155.8"/>
<line class="p" x1="549.8" y1="159.8" x2="557.3" y2="159.1"/>
<line class="p" x1="547.7" y1="161.8" x2="555.0" y2="161.3"/>
<ellipse class="pw" cx="541.6" cy="147.2" rx="9.8" ry="16.0" transform="rotate(-16.3 541.6 147.2)" />
<ellipse class="p" cx="541.6" cy="147.2" rx="8.3" ry="14.2" transform="rotate(-16.3 541.6 147.2)" />
<ellipse class="p" cx="542.3" cy="147.0" rx="6.7" ry="12.4" transform="rotate(-16.3 542.3 147.0)" />
<line class="ld" x1="528.0" y1="149.0" x2="534.0" y2="147.4"/>
<line class="ld" x1="539.0" y1="146.2" x2="548.0" y2="143.8"/>
<ellipse class="pw" cx="591.1" cy="130.8" rx="11.4" ry="19.4" transform="rotate(-16.3 591.1 130.8)" />
<path d="M590.4 151.2 L596.6 149.4 L585.7 112.2 L579.6 114.0 Z" fill="#fff" stroke="none"/>
<line class="p" x1="590.4" y1="151.2" x2="596.6" y2="149.4"/>
<line class="p" x1="579.6" y1="114.0" x2="585.7" y2="112.2"/>
<ellipse class="pw" cx="585.0" cy="132.6" rx="11.4" ry="19.4" transform="rotate(-16.3 585.0 132.6)" />
<ellipse class="p" cx="585.5" cy="132.5" rx="9.8" ry="17.4" transform="rotate(-16.3 585.5 132.5)" />
<path class="p" d="M581.2 118.2 A9.1 16.1 -16.3 0 0 589.6 146.7"/>
<line class="ld" x1="566.0" y1="138.0" x2="572.0" y2="136.2"/>
<line class="ld" x1="579.0" y1="133.8" x2="590.0" y2="130.6"/>
<line class="ld" x1="604.0" y1="127.0" x2="614.0" y2="124.2"/>
<path class="p" d="M579.9 86.8 C575.1 89.3 575.4 89.0 570.9 95.7 C566.5 102.4 567.2 100.6 565.0 109.0 C562.8 117.5 563.5 115.0 563.5 123.9 C563.5 132.8 563.2 130.3 565.0 138.8 C566.8 147.2 565.6 144.4 569.5 152.2 C573.3 159.9 572.2 157.9 577.8 164.6 C583.3 171.4 581.0 170.8 587.9 174.7 C594.8 178.7 592.8 176.6 600.7 177.7 C608.5 178.8 608.6 179.7 614.0 178.3 C619.5 176.9 616.8 178.6 618.8 173.0 C620.8 167.3 620.2 168.1 620.6 159.6 C620.9 151.1 620.9 153.6 620.0 144.7 C619.1 135.8 619.8 138.3 617.6 129.9 C615.4 121.4 616.5 124.5 612.6 116.5 C608.6 108.5 609.9 110.4 604.5 103.1 C599.2 95.8 600.1 96.8 594.7 92.1 C589.4 87.4 591.2 89.0 586.7 87.3 C582.2 85.7 584.6 84.3 579.9 86.8 Z" style="stroke-width:0.8;stroke:#444"/>
<path class="p" d="M580.4 88.4 C575.9 90.8 576.2 90.6 571.9 97.0 C567.7 103.5 568.4 101.7 566.2 109.9 C564.1 118.1 564.8 115.7 564.8 124.3 C564.8 132.9 564.5 130.4 566.2 138.6 C567.9 146.8 566.8 144.0 570.5 151.5 C574.2 159.0 573.2 157.0 578.5 163.6 C583.7 170.1 581.5 169.5 588.1 173.3 C594.7 177.1 592.8 175.1 600.3 176.2 C607.8 177.2 607.9 178.1 613.1 176.8 C618.3 175.4 615.8 177.0 617.6 171.6 C619.5 166.2 619.0 166.9 619.3 158.7 C619.7 150.5 619.6 152.9 618.8 144.3 C617.9 135.7 618.6 138.2 616.5 130.0 C614.4 121.8 615.4 124.8 611.7 117.1 C607.9 109.3 609.1 111.2 604.0 104.2 C598.9 97.1 599.7 98.1 594.6 93.6 C589.5 89.0 591.2 90.5 587.0 89.0 C582.7 87.4 585.0 86.0 580.4 88.4 Z" style="stroke-width:0.8;stroke:#444"/>
<ellipse class="pw" cx="303.9" cy="277.6" rx="2.3" ry="2.9" transform="rotate(29.35 303.9 277.6)" />
<ellipse class="pw" cx="303.2" cy="277.2" rx="2.0" ry="2.6" transform="rotate(29.35 303.2 277.2)" />
<ellipse class="p" cx="303.2" cy="277.2" rx="0.9" ry="1.3" transform="rotate(29.35 303.2 277.2)" />
<g transform="translate(312.7,310.9) rotate(26)">
<path class="pw" style="stroke-width:0.75;stroke:#333" d="M-7.0 -0.3 L-16.6 -0.2 L-18.4 -1.0 L-18.0 -4.0 L-16.2 -3.3 L-6.3 -5.2 L-9.5 -6.9 L-10.3 -1.8 Z"/>
<path class="pw" style="stroke-width:0.75;stroke:#333" d="M-10.3 -1.8 L-18.4 -1.0 L-18.0 -4.0 L-9.5 -6.9 Z"/>
<path class="pw" style="stroke-width:0.75;stroke:#333" d="M-7.0 -0.3 L-10.3 -1.8 L-9.5 -6.9 L-6.3 -5.2 Z"/>
<path class="pw" style="stroke-width:0.75;stroke:#333" d="M-6.0 6.4 L-16.0 4.1 L-17.7 5.1 L-18.3 2.3 L-16.6 1.1 L-6.9 1.8 L-10.0 4.0 L-9.0 8.9 Z"/>
<path class="pw" style="stroke-width:0.75;stroke:#333" d="M-9.0 8.9 L-17.7 5.1 L-18.3 2.3 L-10.0 4.0 Z"/>
<path class="pw" style="stroke-width:0.75;stroke:#333" d="M-6.0 6.4 L-9.0 8.9 L-10.0 4.0 L-6.9 1.8 Z"/>
<path class="pw" style="stroke-width:0.75;stroke:#333" d="M-5.7 -7.0 L-15.8 -4.4 L-17.0 -6.8 L-15.8 -8.7 L-14.6 -6.4 L-3.7 -10.2 L-5.6 -15.1 L-7.8 -11.7 Z"/>
<path class="pw" style="stroke-width:0.75;stroke:#333" d="M-7.8 -11.7 L-17.0 -6.8 L-15.8 -8.7 L-5.6 -15.1 Z"/>
<path class="pw" style="stroke-width:0.75;stroke:#333" d="M-5.7 -7.0 L-7.8 -11.7 L-5.6 -15.1 L-3.7 -10.2 Z"/>
<path class="pw" style="stroke-width:0.75;stroke:#333" d="M-3.0 10.7 L-14.2 6.8 L-15.2 9.3 L-16.5 7.7 L-15.5 5.1 L-5.2 8.1 L-6.9 13.3 L-4.4 16.1 Z"/>
<path class="pw" style="stroke-width:0.75;stroke:#333" d="M-4.4 16.1 L-15.2 9.3 L-16.5 7.7 L-6.9 13.3 Z"/>
<path class="pw" style="stroke-width:0.75;stroke:#333" d="M-3.0 10.7 L-4.4 16.1 L-6.9 13.3 L-5.2 8.1 Z"/>
<path class="pw" style="stroke-width:0.75;stroke:#333" d="M-2.7 -10.9 L-14.0 -6.9 L-14.1 -10.0 L-12.5 -10.2 L-12.4 -7.1 L-0.1 -11.3 L0.3 -17.5 L-2.6 -17.2 Z"/>
<path class="pw" style="stroke-width:0.75;stroke:#333" d="M-2.6 -17.2 L-14.1 -10.0 L-12.5 -10.2 L0.3 -17.5 Z"/>
<path class="pw" style="stroke-width:0.75;stroke:#333" d="M-2.7 -10.9 L-2.6 -17.2 L0.3 -17.5 L-0.1 -11.3 Z"/>
<path class="pw" style="stroke-width:0.75;stroke:#333" d="M0.7 10.9 L-12.0 6.9 L-11.9 10.0 L-13.5 10.2 L-13.6 7.1 L-1.9 11.3 L-1.3 17.5 L1.6 17.2 Z"/>
<path class="pw" style="stroke-width:0.75;stroke:#333" d="M1.6 17.2 L-11.9 10.0 L-13.5 10.2 L-1.3 17.5 Z"/>
<path class="pw" style="stroke-width:0.75;stroke:#333" d="M0.7 10.9 L1.6 17.2 L-1.3 17.5 L-1.9 11.3 Z"/>
<path class="pw" style="stroke-width:0.75;stroke:#333" d="M1.0 -10.7 L-11.8 -6.8 L-10.8 -9.3 L-9.5 -7.7 L-10.5 -5.1 L3.2 -8.1 L5.9 -13.3 L3.4 -16.1 Z"/>
<path class="pw" style="stroke-width:0.75;stroke:#333" d="M3.4 -16.1 L-10.8 -9.3 L-9.5 -7.7 L5.9 -13.3 Z"/>
<path class="pw" style="stroke-width:0.75;stroke:#333" d="M1.0 -10.7 L3.4 -16.1 L5.9 -13.3 L3.2 -8.1 Z"/>
<path class="pw" style="stroke-width:0.75;stroke:#333" d="M3.7 7.0 L-10.2 4.4 L-9.0 6.8 L-10.2 8.7 L-11.4 6.4 L1.7 10.2 L4.6 15.1 L6.8 11.7 Z"/>
<path class="pw" style="stroke-width:0.75;stroke:#333" d="M6.8 11.7 L-9.0 6.8 L-10.2 8.7 L4.6 15.1 Z"/>
<path class="pw" style="stroke-width:0.75;stroke:#333" d="M3.7 7.0 L6.8 11.7 L4.6 15.1 L1.7 10.2 Z"/>
<path class="pw" style="stroke-width:0.75;stroke:#333" d="M4.0 -6.4 L-10.0 -4.1 L-8.3 -5.1 L-7.7 -2.3 L-9.4 -1.1 L4.9 -1.8 L9.0 -4.0 L8.0 -8.9 Z"/>
<path class="pw" style="stroke-width:0.75;stroke:#333" d="M8.0 -8.9 L-8.3 -5.1 L-7.7 -2.3 L9.0 -4.0 Z"/>
<path class="pw" style="stroke-width:0.75;stroke:#333" d="M4.0 -6.4 L8.0 -8.9 L9.0 -4.0 L4.9 -1.8 Z"/>
<path class="pw" style="stroke-width:0.75;stroke:#333" d="M5.0 0.3 L-9.4 0.2 L-7.6 1.0 L-8.0 4.0 L-9.8 3.3 L4.3 5.2 L8.5 6.9 L9.3 1.8 Z"/>
<path class="pw" style="stroke-width:0.75;stroke:#333" d="M9.3 1.8 L-7.6 1.0 L-8.0 4.0 L8.5 6.9 Z"/>
<path class="pw" style="stroke-width:0.75;stroke:#333" d="M5.0 0.3 L9.3 1.8 L8.5 6.9 L4.3 5.2 Z"/>
<ellipse class="pw" cx="-1" cy="0" rx="6.4" ry="11.8"/>
<ellipse class="pw" cx="0.8" cy="0" rx="4.8" ry="9.0"/>
<path class="pw" d="M2 -7.4 L13 -7.2 L13 7.2 L2 7.4 Z"/>
<ellipse class="pw" cx="2" cy="0" rx="3.8" ry="7.4"/>
<path class="p" d="M6.5 -7.3 Q10.3 0 6.5 7.3 M9.5 -7.2 Q13.3 0 9.5 7.2"/>
<path class="pw" d="M13 -6.9 L17.5 -6.9 L17.5 6.9 L13 6.9 Z" style="fill:#333"/>
<path d="M14.6 -6.9 Q18 0 14.6 6.9 L15.8 6.9 Q19.2 0 15.8 -6.9 Z" fill="#fff"/>
<path class="pw" d="M17.5 -6.4 L29 -5.9 L29 5.9 L17.5 6.4 Z"/>
<path class="p" d="M21 -6.3 Q24.2 0 21 6.3 M25 -6.1 Q28 0 25 6.1"/>
<path class="pw" d="M29 -5.6 L43.5 -5.4 L43.5 5.4 L29 5.6 Z" style="fill:#fff"/>
<line class="p" x1="29.5" y1="-5.4" x2="40.5" y2="-5.4" style="stroke-width:0.8"/>
<line class="p" x1="29.5" y1="-4.1" x2="40.5" y2="-4.1" style="stroke-width:0.8"/>
<line class="p" x1="29.5" y1="-2.7" x2="40.5" y2="-2.7" style="stroke-width:0.8"/>
<line class="p" x1="29.5" y1="-1.3" x2="40.5" y2="-1.3" style="stroke-width:0.8"/>
<line class="p" x1="29.5" y1="0.0" x2="40.5" y2="0.0" style="stroke-width:0.8"/>
<line class="p" x1="29.5" y1="1.3" x2="40.5" y2="1.3" style="stroke-width:0.8"/>
<line class="p" x1="29.5" y1="2.7" x2="40.5" y2="2.7" style="stroke-width:0.8"/>
<line class="p" x1="29.5" y1="4.1" x2="40.5" y2="4.1" style="stroke-width:0.8"/>
<line class="p" x1="29.5" y1="5.4" x2="40.5" y2="5.4" style="stroke-width:0.8"/>
<path class="p" d="M33 -5.5 Q35.6 0 33 5.5 M37 -5.5 Q39.6 0 37 5.5" />
<ellipse class="pw" cx="43.5" cy="0" rx="3.1" ry="5.4"/>
</g>
<line class="ld" x1="355.0" y1="331.3" x2="360.5" y2="334.2"/>
<ellipse class="pw" cx="368.9" cy="338.6" rx="8.8" ry="11.0" transform="rotate(29.35 368.9 338.6)" />
<ellipse class="p" cx="369.0" cy="338.7" rx="5.7" ry="7.6" transform="rotate(29.35 369.0 338.7)" />
<line class="ld" x1="364.5" y1="336.4" x2="370.0" y2="339.4"/>
<line class="ld" x1="377.6" y1="343.6" x2="383.0" y2="346.6"/>
<ellipse class="pw" cx="389.8" cy="351.1" rx="10.5" ry="14.2" transform="rotate(29.35 389.8 351.1)" />
<path d="M391.2 364.0 L382.8 363.5 L396.7 338.7 L401.6 345.6 Z" fill="#fff" stroke="none"/>
<line class="p" x1="391.2" y1="364.0" x2="382.8" y2="363.5"/>
<line class="p" x1="401.6" y1="345.6" x2="396.7" y2="338.7"/>
<line class="p" x1="400.3" y1="345.0" x2="395.0" y2="338.0"/>
<line class="p" x1="398.3" y1="344.8" x2="392.3" y2="337.7"/>
<line class="p" x1="396.1" y1="345.2" x2="389.4" y2="338.2"/>
<line class="p" x1="394.0" y1="346.2" x2="386.6" y2="339.6"/>
<line class="p" x1="392.0" y1="347.8" x2="383.9" y2="341.7"/>
<line class="p" x1="390.3" y1="349.8" x2="381.6" y2="344.4"/>
<line class="p" x1="389.0" y1="352.2" x2="379.9" y2="347.6"/>
<line class="p" x1="388.2" y1="354.7" x2="378.7" y2="350.9"/>
<line class="p" x1="387.8" y1="357.2" x2="378.3" y2="354.3"/>
<line class="p" x1="388.1" y1="359.6" x2="378.6" y2="357.5"/>
<line class="p" x1="388.8" y1="361.6" x2="379.7" y2="360.2"/>
<line class="p" x1="390.1" y1="363.2" x2="381.3" y2="362.4"/>
<ellipse class="pw" cx="396.4" cy="354.8" rx="7.8" ry="10.6" transform="rotate(29.35 396.4 354.8)" />
<ellipse class="p" cx="396.4" cy="354.8" rx="6.6" ry="9.2" transform="rotate(29.35 396.4 354.8)" />
<ellipse class="p" cx="395.8" cy="354.5" rx="5.4" ry="8.0" transform="rotate(29.35 395.8 354.5)" />
<line class="ld" x1="404.4" y1="358.8" x2="409.5" y2="361.6"/>
<ellipse class="pw" cx="418.9" cy="365.7" rx="12.3" ry="15.2" transform="rotate(29.35 418.9 365.7)" />
<path d="M415.9 381.4 L411.4 378.9 L426.3 352.4 L430.9 355.0 Z" fill="#fff" stroke="none"/>
<line class="p" x1="415.9" y1="381.4" x2="411.4" y2="378.9"/>
<line class="p" x1="430.9" y1="355.0" x2="426.3" y2="352.4"/>
<ellipse class="pw" cx="423.4" cy="368.2" rx="12.3" ry="15.2" transform="rotate(29.35 423.4 368.2)" />
<ellipse class="p" cx="423.8" cy="368.4" rx="9.8" ry="12.6" transform="rotate(29.35 423.8 368.4)" />
<path class="p" d="M429.0 358.9 A9.2 11.8 29.35 0 1 418.4 377.8"/>
<ellipse class="p" cx="422.6" cy="367.8" rx="9.0" ry="11.6" transform="rotate(29.35 422.6 367.8)" />
<line class="ld" x1="417.0" y1="363.8" x2="424.0" y2="367.8"/>
<line class="ld" x1="434.0" y1="373.6" x2="437.0" y2="375.2"/>
<ellipse class="pw" cx="441.4" cy="379.8" rx="6.9" ry="8.5" transform="rotate(29.35 441.4 379.8)" style="stroke-width:0.8;stroke:#444"/>
<ellipse class="p" cx="441.6" cy="379.9" rx="5.7" ry="7.2" transform="rotate(29.35 441.6 379.9)" style="stroke-width:0.8;stroke:#444"/>
<ellipse class="pw" cx="455.4" cy="387.6" rx="6.9" ry="8.5" transform="rotate(29.35 455.4 387.6)" style="stroke-width:0.8;stroke:#444"/>
<ellipse class="p" cx="455.6" cy="387.7" rx="5.7" ry="7.2" transform="rotate(29.35 455.6 387.7)" style="stroke-width:0.8;stroke:#444"/>
<ellipse class="pw" cx="469.0" cy="394.2" rx="6.9" ry="8.5" transform="rotate(29.35 469.0 394.2)" style="stroke-width:0.8;stroke:#444"/>
<ellipse class="p" cx="469.2" cy="394.3" rx="5.7" ry="7.2" transform="rotate(29.35 469.2 394.3)" style="stroke-width:0.8;stroke:#444"/>
<ellipse class="pw" cx="488.8" cy="406.5" rx="12.0" ry="14.8" transform="rotate(29.35 488.8 406.5)" />
<path d="M485.5 421.7 L481.5 419.4 L496.0 393.6 L500.1 395.9 Z" fill="#fff" stroke="none"/>
<line class="p" x1="485.5" y1="421.7" x2="481.5" y2="419.4"/>
<line class="p" x1="500.1" y1="395.9" x2="496.0" y2="393.6"/>
<ellipse class="pw" cx="492.8" cy="408.8" rx="12.0" ry="14.8" transform="rotate(29.35 492.8 408.8)" />
<ellipse class="p" cx="493.2" cy="409.0" rx="9.4" ry="12.0" transform="rotate(29.35 493.2 409.0)" />
<path class="p" d="M498.3 400.1 A8.7 11.2 29.35 0 1 488.2 418.0"/>
<ellipse class="p" cx="492.0" cy="408.4" rx="8.6" ry="10.8" transform="rotate(29.35 492.0 408.4)" />
<line class="ld" x1="487.2" y1="405.6" x2="494.2" y2="409.6"/>
<line class="ld" x1="503.8" y1="413.4" x2="507.5" y2="415.6"/>
<ellipse class="pw" cx="512.3" cy="421.6" rx="11.5" ry="14.4" transform="rotate(29.35 512.3 421.6)" />
<path d="M512.5 435.5 L505.2 434.1 L519.4 409.0 L524.3 414.5 Z" fill="#fff" stroke="none"/>
<line class="p" x1="512.5" y1="435.5" x2="505.2" y2="434.1"/>
<line class="p" x1="524.3" y1="414.5" x2="519.4" y2="409.0"/>
<line class="p" x1="522.7" y1="413.9" x2="517.5" y2="408.2"/>
<line class="p" x1="520.5" y1="413.5" x2="514.8" y2="407.8"/>
<line class="p" x1="518.1" y1="413.8" x2="512.0" y2="408.1"/>
<line class="p" x1="515.8" y1="414.7" x2="509.1" y2="409.2"/>
<line class="p" x1="513.6" y1="416.1" x2="506.5" y2="410.9"/>
<line class="p" x1="511.6" y1="418.0" x2="504.2" y2="413.2"/>
<line class="p" x1="510.0" y1="420.3" x2="502.3" y2="415.9"/>
<line class="p" x1="508.9" y1="422.8" x2="500.9" y2="419.0"/>
<line class="p" x1="508.3" y1="425.5" x2="500.2" y2="422.2"/>
<line class="p" x1="508.2" y1="428.1" x2="500.1" y2="425.3"/>
<line class="p" x1="508.7" y1="430.6" x2="500.6" y2="428.3"/>
<line class="p" x1="509.7" y1="432.7" x2="501.8" y2="430.9"/>
<line class="p" x1="511.2" y1="434.5" x2="503.6" y2="432.9"/>
<ellipse class="pw" cx="518.4" cy="425.0" rx="9.6" ry="12.0" transform="rotate(29.35 518.4 425.0)" />
<ellipse class="p" cx="518.4" cy="425.0" rx="8.2" ry="10.4" transform="rotate(29.35 518.4 425.0)" />
<ellipse class="p" cx="518.6" cy="425.2" rx="6.0" ry="8.2" transform="rotate(29.35 518.6 425.2)" />
<line class="ld" x1="514.9" y1="423.2" x2="521.4" y2="426.8"/>
<line class="ld" x1="519.0" y1="421.4" x2="517.8" y2="428.8"/>
<line class="ld" x1="527.2" y1="428.6" x2="530.6" y2="430.4"/>
<g transform="translate(540.6,437.6) rotate(29.35)">
<path class="pw" d="M3.6 3.0 L-2.0 9.6 L-9.2 6.6 L-10.8 -3.0 L-5.2 -9.6 L2.0 -6.6 Z"/>
<line class="p" x1="7.2" y1="3.0" x2="3.6" y2="3.0"/>
<line class="p" x1="1.6" y1="9.6" x2="-2.0" y2="9.6"/>
<line class="p" x1="-5.6" y1="6.6" x2="-9.2" y2="6.6"/>
<line class="p" x1="-7.2" y1="-3.0" x2="-10.8" y2="-3.0"/>
<line class="p" x1="-1.6" y1="-9.6" x2="-5.2" y2="-9.6"/>
<line class="p" x1="5.6" y1="-6.6" x2="2.0" y2="-6.6"/>
<path class="pw" d="M7.2 3.0 L1.6 9.6 L-5.6 6.6 L-7.2 -3.0 L-1.6 -9.6 L5.6 -6.6 Z"/>
<ellipse class="p" cx="0" cy="0" rx="5.4" ry="7.0"/>
<ellipse class="p" cx="0" cy="0" rx="4.4" ry="5.9" style="stroke-width:1.5;stroke:#333"/>
</g>
<line class="ld" x1="548.6" y1="440.4" x2="553.2" y2="443.0"/>
<ellipse class="pw" cx="564.9" cy="450.3" rx="13.7" ry="17.2" transform="rotate(29.35 564.9 450.3)" />
<ellipse class="pw" cx="566.7" cy="451.4" rx="13.7" ry="17.2" transform="rotate(29.35 566.7 451.4)" />
<ellipse class="p" cx="566.8" cy="452.2" rx="5.2" ry="6.8" transform="rotate(29.35 566.8 452.2)" style="stroke-width:1.9;stroke:#2a2a2a"/>
<ellipse class="p" cx="566.5" cy="452.0" rx="3.9" ry="5.3" transform="rotate(29.35 566.5 452.0)" />

</g>
<!--WATERMARK-->
<g id="wm" style="mix-blend-mode:multiply" transform="translate(12.5,491.8) rotate(-31.9)">
<text class="wmbase wmo" text-anchor="middle" transform="translate(39.5,0) scale(1.286,1.000)">w</text>
<text class="wmbase wmo" text-anchor="middle" transform="translate(96.5,0) scale(1.286,1.000)">w</text>
<text class="wmbase wmo" text-anchor="middle" transform="translate(153.6,0) scale(1.286,1.000)">w</text>
<text class="wmbase wmo" text-anchor="middle" transform="translate(190.6,0) scale(1.214,1.000)">.</text>
<text class="wmbase wmo" text-anchor="middle" transform="translate(221.8,0) scale(1.170,1.000)">p</text>
<text class="wmbase wmo" text-anchor="middle" transform="translate(262.8,0) scale(1.211,0.997)">o</text>
<text class="wmbase wmo" text-anchor="middle" transform="translate(294.6,0) scale(1.203,0.991)">l</text>
<text class="wmbase wmo" text-anchor="middle" transform="translate(325.9,0) scale(1.196,0.985)">a</text>
<text class="wmbase wmo" text-anchor="middle" transform="translate(360.5,0) scale(1.188,0.978)">r</text>
<text class="wmbase wmo" text-anchor="middle" transform="translate(380.7,0) scale(1.183,0.974)">i</text>
<text class="wmbase wmo" text-anchor="middle" transform="translate(409.1,0) scale(1.176,0.969)">s</text>
<text class="wmbase wmo" text-anchor="middle" transform="translate(448.2,0) scale(1.167,0.961)">e</text>
<text class="wmbase wmo" text-anchor="middle" transform="translate(481.5,0) scale(1.159,0.954)">r</text>
<text class="wmbase wmo" text-anchor="middle" transform="translate(514.4,0) scale(1.151,0.948)">s</text>
<text class="wmbase wmo" text-anchor="middle" transform="translate(551.3,0) scale(1.142,0.941)">a</text>
<text class="wmbase wmo" text-anchor="middle" transform="translate(581.5,0) scale(1.135,0.935)">t</text>
<text class="wmbase wmo" text-anchor="middle" transform="translate(611.9,0) scale(1.128,0.929)">z</text>
<text class="wmbase wmo" text-anchor="middle" transform="translate(641.8,0) scale(1.120,0.923)">t</text>
<text class="wmbase wmo" text-anchor="middle" transform="translate(671.7,0) scale(1.113,0.917)">e</text>
<text class="wmbase wmo" text-anchor="middle" transform="translate(701.1,0) scale(1.106,0.911)">i</text>
<text class="wmbase wmo" text-anchor="middle" transform="translate(723.2,0) scale(1.101,0.907)">l</text>
<text class="wmbase wmo" text-anchor="middle" transform="translate(753.0,0) scale(1.094,0.901)">e</text>
<text class="wmbase wmo" text-anchor="middle" transform="translate(781.0,0) scale(1.087,0.896)">.</text>
<text class="wmbase wmo" text-anchor="middle" transform="translate(811.5,0) scale(1.080,0.890)">d</text>
<text class="wmbase wmo" text-anchor="middle" transform="translate(850.0,0) scale(1.071,0.882)">e</text>
<text class="wmbase wm" text-anchor="middle" transform="translate(39.5,0) scale(1.286,1.000)">w</text>
<text class="wmbase wm" text-anchor="middle" transform="translate(96.5,0) scale(1.286,1.000)">w</text>
<text class="wmbase wm" text-anchor="middle" transform="translate(153.6,0) scale(1.286,1.000)">w</text>
<text class="wmbase wm" text-anchor="middle" transform="translate(190.6,0) scale(1.214,1.000)">.</text>
<text class="wmbase wm" text-anchor="middle" transform="translate(221.8,0) scale(1.170,1.000)">p</text>
<text class="wmbase wm" text-anchor="middle" transform="translate(262.8,0) scale(1.211,0.997)">o</text>
<text class="wmbase wm" text-anchor="middle" transform="translate(294.6,0) scale(1.203,0.991)">l</text>
<text class="wmbase wm" text-anchor="middle" transform="translate(325.9,0) scale(1.196,0.985)">a</text>
<text class="wmbase wm" text-anchor="middle" transform="translate(360.5,0) scale(1.188,0.978)">r</text>
<text class="wmbase wm" text-anchor="middle" transform="translate(380.7,0) scale(1.183,0.974)">i</text>
<text class="wmbase wm" text-anchor="middle" transform="translate(409.1,0) scale(1.176,0.969)">s</text>
<text class="wmbase wm" text-anchor="middle" transform="translate(448.2,0) scale(1.167,0.961)">e</text>
<text class="wmbase wm" text-anchor="middle" transform="translate(481.5,0) scale(1.159,0.954)">r</text>
<text class="wmbase wm" text-anchor="middle" transform="translate(514.4,0) scale(1.151,0.948)">s</text>
<text class="wmbase wm" text-anchor="middle" transform="translate(551.3,0) scale(1.142,0.941)">a</text>
<text class="wmbase wm" text-anchor="middle" transform="translate(581.5,0) scale(1.135,0.935)">t</text>
<text class="wmbase wm" text-anchor="middle" transform="translate(611.9,0) scale(1.128,0.929)">z</text>
<text class="wmbase wm" text-anchor="middle" transform="translate(641.8,0) scale(1.120,0.923)">t</text>
<text class="wmbase wm" text-anchor="middle" transform="translate(671.7,0) scale(1.113,0.917)">e</text>
<text class="wmbase wm" text-anchor="middle" transform="translate(701.1,0) scale(1.106,0.911)">i</text>
<text class="wmbase wm" text-anchor="middle" transform="translate(723.2,0) scale(1.101,0.907)">l</text>
<text class="wmbase wm" text-anchor="middle" transform="translate(753.0,0) scale(1.094,0.901)">e</text>
<text class="wmbase wm" text-anchor="middle" transform="translate(781.0,0) scale(1.087,0.896)">.</text>
<text class="wmbase wm" text-anchor="middle" transform="translate(811.5,0) scale(1.080,0.890)">d</text>
<text class="wmbase wm" text-anchor="middle" transform="translate(850.0,0) scale(1.071,0.882)">e</text>
</g>
<g id="top">

<path class="pw" d="M626.9 86.3 C628.5 78.9 627.1 83.0 628.9 79.8 C630.6 76.6 630.3 77.1 633.0 75.0 C635.8 72.8 635.0 73.2 638.6 72.2 C642.1 71.2 641.6 71.0 645.5 71.5 C649.4 72.0 648.8 71.6 652.4 73.9 C656.1 76.1 655.1 75.9 658.3 79.4 C661.5 82.9 660.7 81.7 663.8 86.3 C667.0 91.0 666.5 90.0 669.4 95.8 C672.2 101.6 671.9 100.0 673.8 106.9 C675.7 113.7 672.9 113.6 676.0 120.0 C679.2 126.5 682.7 122.8 684.8 129.7 C687.0 136.7 684.9 137.0 683.6 144.6 C682.4 152.2 683.0 152.3 680.4 156.5 C677.8 160.7 679.1 158.2 674.4 159.4 C669.8 160.7 669.5 161.3 664.0 160.9 C658.6 160.6 661.4 161.6 655.1 158.2 C648.8 154.9 648.5 155.6 641.7 149.0 C635.0 142.5 636.0 143.9 631.3 135.1 C626.7 126.2 627.7 126.1 625.4 117.8 C623.1 109.6 622.9 114.9 623.3 105.9 C623.8 97.0 625.4 93.7 626.9 86.3 Z" style="stroke:none"/>
<path class="p" d="M619.2 83.3 C619.7 78.7 619.1 81.1 620.5 77.7 C622.0 74.4 622.1 73.9 624.7 70.8 C627.3 67.7 626.9 68.2 630.3 66.0 C633.6 63.7 634.4 64.0 637.2 62.5 C640.0 61.0 638.1 60.6 640.7 60.4 C643.2 60.2 643.8 61.0 646.9 61.8 C650.0 62.5 650.2 61.9 652.4 63.2 C654.7 64.5 653.0 64.6 655.2 66.6 C657.4 68.7 658.2 69.1 660.8 70.8 C663.4 72.5 662.0 71.0 664.9 72.9 C667.9 74.7 668.9 74.6 671.9 77.7 C674.8 80.9 673.4 81.0 676.0 84.7 C678.6 88.4 678.6 87.2 681.6 91.6 C684.5 96.0 684.7 96.1 687.1 101.3 C689.5 106.5 689.5 106.0 690.6 111.0 C691.7 116.0 691.4 115.1 691.3 120.0 C691.1 125.0 691.0 123.6 690.0 129.7 C689.1 135.9 689.2 136.4 687.8 143.1 C686.4 149.8 686.5 149.9 684.8 155.0 C683.2 160.0 683.2 159.5 681.6 162.1 C680.0 164.7 681.6 163.9 678.9 164.8 C676.2 165.7 675.4 165.2 671.5 165.4 C667.5 165.5 668.0 166.2 664.0 165.4 C660.1 164.6 662.9 165.6 656.6 162.4 C650.3 159.2 647.8 160.2 640.3 153.5 C632.7 146.8 633.1 146.3 628.4 137.1 C623.6 128.0 624.6 126.8 622.4 119.3 C620.3 111.8 621.3 115.4 620.2 108.9 C619.1 102.4 618.7 101.8 618.4 95.0 C618.1 88.2 618.6 87.9 619.2 83.3 Z" />
<path class="p" d="M623.3 84.7 C623.9 82.7 623.8 81.1 625.4 77.7 C627.0 74.4 626.3 75.4 628.9 72.9 C631.4 70.3 630.5 70.3 634.4 68.7 C638.3 67.2 638.0 67.1 642.7 67.3 C647.5 67.5 646.7 67.5 651.1 69.4 C655.4 71.4 654.5 71.1 658.0 74.3 C661.5 77.4 660.4 76.4 663.5 80.5 C666.7 84.6 666.3 84.1 669.1 88.8 C671.8 93.6 671.1 91.7 673.3 97.2 C675.4 102.7 675.3 101.8 676.7 108.3 C678.1 114.7 675.4 114.0 678.1 120.0 C680.8 126.1 684.4 122.8 686.3 129.7 C688.2 136.7 686.2 136.7 684.8 144.6 C683.5 152.5 682.5 153.9 681.6 157.7" />
<path class="p" d="M623.3 84.7 C622.7 88.2 621.6 89.7 621.2 97.0 C620.8 104.3 620.8 103.7 621.8 110.4 C622.9 117.1 622.4 113.2 624.8 120.8 C627.2 128.4 625.7 128.4 630.5 137.1 C635.3 145.9 634.3 145.1 641.7 151.7 C649.2 158.3 649.9 157.1 656.6 160.3 C663.3 163.5 660.0 162.4 665.5 163.0 C671.0 163.6 673.0 162.6 675.9 162.4" />
<path class="p" d="M623.9 105.9 C624.8 100.4 625.5 93.7 626.9 86.3 C628.3 78.9 627.1 83.0 628.9 79.8 C630.6 76.6 630.3 77.1 633.0 75.0 C635.8 72.8 635.0 73.2 638.6 72.2 C642.1 71.2 641.6 71.0 645.5 71.5 C649.4 72.0 648.8 71.6 652.4 73.9 C656.1 76.1 655.1 75.9 658.3 79.4 C661.5 82.9 660.7 81.7 663.8 86.3 C667.0 91.0 666.7 90.2 669.4 95.8 C672.0 101.3 671.5 99.2 673.3 106.0 C675.0 112.9 672.9 113.3 675.5 120.0 C678.0 126.8 680.5 122.8 682.2 129.7 C683.8 136.7 682.4 137.0 681.3 144.6 C680.1 152.2 678.9 153.1 678.0 156.5" style="stroke-width:1.4;stroke:#2a2a2a"/>
<path class="p" d="M623.9 105.9 C624.6 109.5 623.9 110.2 626.3 118.4 C628.7 126.7 627.6 126.6 632.2 135.1 C636.9 143.6 636.0 142.2 642.6 148.4 C649.3 154.7 649.4 153.9 655.7 157.1 C662.0 160.2 659.6 159.1 664.9 159.4 C670.2 159.8 670.7 159.1 674.4 158.2 C678.1 157.4 677.0 157.0 678.0 156.5" style="stroke-width:1.6;stroke:#2a2a2a"/>
<path class="p" d="M660.8 70.8 C663.5 74.5 665.8 76.3 670.5 84.0 C675.2 91.6 674.3 90.2 677.4 97.9 C680.5 105.5 679.9 104.7 681.3 111.0 C682.7 117.3 680.4 114.7 682.4 120.0 C684.4 125.3 687.2 122.8 688.4 129.7 C689.6 136.7 688.1 136.5 686.6 144.6 C685.1 152.7 684.1 154.4 683.1 158.2" />
<path class="p" d="M666.6 81.9 C668.2 84.7 669.5 85.7 672.1 91.6 C674.8 97.5 674.3 96.4 676.0 102.7 C677.8 109.0 677.2 109.5 678.2 113.8 C679.3 118.1 679.2 112.5 679.8 117.8 C680.4 123.2 680.5 123.8 680.4 132.7 C680.2 141.5 679.5 144.4 679.2 149.0" />
<path class="p" d="M675.0 108.9 C675.5 114.0 676.3 116.6 676.5 126.7 C676.8 136.8 676.7 136.5 675.9 144.6 C675.2 152.7 674.4 152.2 673.8 155.3" style="stroke-width:1.3"/>
<path class="pw" d="M661.9 70.8 L666.6 70.8 L674.9 81.3 L675.5 85.0 L671.0 84.7 L663.5 75.0 Z" />
<path class="p" d="M664.4 73.3 L666.6 73.0 L673.3 81.9 L671.6 83.0 Z" />
<ellipse class="pw" cx="660.6" cy="109.7" rx="13.2" ry="20.2" transform="rotate(-16.3 660.6 109.7)" />
<ellipse class="p" cx="661.6" cy="109.1" rx="11.4" ry="18.0" transform="rotate(-16.3 661.6 109.1)" style="stroke-width:1.7;stroke:#2a2a2a"/>
<ellipse class="p" cx="662.8" cy="108.9" rx="9.4" ry="15.6" transform="rotate(-16.3 662.8 108.9)" />
<ellipse class="p" cx="664.0" cy="108.7" rx="7.6" ry="13.6" transform="rotate(-16.3 664.0 108.7)" style="stroke-width:1.5;stroke:#333;fill:#e4e4e4"/>
<ellipse class="pw" cx="665.8" cy="108.3" rx="5.6" ry="11.6" transform="rotate(-16.3 665.8 108.3)" />
<path class="p" d="M662.6 99.1 Q659.2 109.1 664.6 119.5" />
<line class="ld" x1="664.6" y1="110.5" x2="669.6" y2="109.1"/>
<path class="p" d="M631.4 77.7 L647.2 77.2 M632.2 80.8 L646.3 80.2" />
<path class="p" d="M631.4 77.7 Q629.6 79.3 632.2 80.8" />
<path class="p" d="M627.8 96.9 L643.6 94.7 M628.9 99.9 L644.7 97.7" />
<path class="p" d="M627.8 96.9 Q626.0 98.4 628.9 99.9" />
<path class="p" d="M634.0 129.1 L650.1 122.3 M635.8 131.8 L650.7 126.2" />
<path class="p" d="M634.0 129.1 Q632.2 130.5 635.8 131.8" />
<path class="p" d="M638.6 72.5 L643.6 84.7 L647.7 91.6" />
<path class="p" d="M644.1 71.9 L648.3 82.7 L651.3 88.8" />
<path class="p" d="M647.7 91.6 L646.3 108.3" />
<path class="p" d="M643.6 84.7 L642.2 108.3" />
<path class="p" d="M643.2 113.4 L644.7 129.7" />
<path class="p" d="M646.8 114.9 L649.5 138.6" />
<path class="p" d="M649.5 138.9 C649.3 140.8 647.9 142.4 648.9 145.5 C649.9 148.6 649.2 148.2 653.0 149.9 C656.9 151.6 657.3 151.4 662.5 151.4 C667.8 151.4 668.1 151.4 671.5 149.9 C674.8 148.4 673.6 147.2 674.4 146.1" />
<path class="p" d="M649.5 138.9 C651.9 139.7 653.1 140.0 658.1 141.6 C663.1 143.2 662.4 143.3 667.0 144.6 C671.6 145.8 672.3 145.6 674.4 146.1" />
<path class="p" d="M652.1 129.7 C654.3 131.1 654.9 131.9 659.6 134.5 C664.2 137.1 664.1 136.9 668.5 138.9 C672.9 141.0 673.2 140.8 675.0 141.6" />
<path class="p" d="M650.7 133.6 C653.0 134.8 654.1 135.5 659.0 138.0 C663.9 140.6 663.4 140.7 667.9 142.5 C672.4 144.3 672.8 143.8 674.7 144.3" />
<path class="pw" d="M674.4 158.8 L681.9 157.7 L683.6 162.4 L681.6 165.4 L675.9 166.0 Z" />
<ellipse class="p" cx="679.8" cy="163.6" rx="1.5" ry="1.9" transform="rotate(0 679.8 163.6)" />
<path class="p" d="M658.1 160.0 L659.6 163.9 L665.5 164.8" />
<ellipse class="pw" cx="620.5" cy="82.7" rx="1.5" ry="2.1" transform="rotate(-16.3 620.5 82.7)" />
<ellipse class="pw" cx="640.8" cy="61.1" rx="1.5" ry="2.1" transform="rotate(-16.3 640.8 61.1)" />
<ellipse class="pw" cx="655.5" cy="66.1" rx="1.5" ry="2.1" transform="rotate(-16.3 655.5 66.1)" />
<ellipse class="pw" cx="629.3" cy="137.1" rx="1.5" ry="2.1" transform="rotate(-16.3 629.3 137.1)" />
<ellipse class="pw" cx="641.2" cy="153.5" rx="1.5" ry="2.1" transform="rotate(-16.3 641.2 153.5)" />
<line class="ld" x1="598.0" y1="129.5" x2="608.0" y2="126.6"/>
<line class="ld" x1="616.0" y1="106.5" x2="624.0" y2="104.2"/>
<line class="ld" x1="690.5" y1="102.5" x2="697.0" y2="100.6"/>
<line class="ld" x1="688.5" y1="153.8" x2="699.0" y2="150.8"/>
<ellipse class="pw" cx="679.4" cy="67.6" rx="2.6" ry="3.4" transform="rotate(-16.3 679.4 67.6)" />
<ellipse class="p" cx="679.9" cy="67.5" rx="1.3" ry="2.0" transform="rotate(-16.3 679.9 67.5)" />
<ellipse class="p" cx="678.6" cy="67.9" rx="2.6" ry="3.4" transform="rotate(-16.3 678.6 67.9)" />
<line class="ld" x1="668.0" y1="71.0" x2="676.0" y2="68.6"/>
<ellipse class="pw" cx="706.8" cy="96.4" rx="7.8" ry="11.6" transform="rotate(-16.3 706.8 96.4)" />
<ellipse class="pw" cx="705.2" cy="96.8" rx="7.8" ry="11.6" transform="rotate(-16.3 705.2 96.8)" />
<ellipse class="p" cx="705.2" cy="96.8" rx="6.1" ry="9.5" transform="rotate(-16.3 705.2 96.8)" style="stroke-width:2.0;stroke:#2a2a2a"/>
<ellipse class="p" cx="705.5" cy="96.8" rx="4.7" ry="7.9" transform="rotate(-16.3 705.5 96.8)" />
<g transform="translate(716.2,147.0) rotate(165)">
<rect class="pw" x="1.8" y="-1.3" width="10.5" height="2.6" rx="0.8"/>
<ellipse class="pw" cx="1.7" cy="0" rx="1.4" ry="3.4"/>
<path class="pw" d="M-2.7 -1.5 L-1.5 -3.0 L1.4 -2.8 L1.4 2.8 L-1.5 3.0 L-2.7 1.5 Z"/>
<path class="p" d="M-1.5 -3.0 L-1.0 -0.9 L-1.0 1.2 L-1.5 3.0 M-1.0 -0.9 L1.4 -0.9 M-1.0 1.2 L1.4 1.2"/>
</g>
</g>
<!--LABELS-->
<g id="labels">
<text class="lb" x="31.7" y="196">1</text>
<text class="lb" x="41" y="296">2</text>
<text class="lb" x="58.2" y="184.8">3</text>
<text class="lb" x="132.3" y="159.8">4</text>
<text class="lb" x="94.8" y="174.4">5</text>
<text class="lb" x="163.7" y="159.8">6</text>
<text class="lb" x="213" y="167">7</text>
<text class="lb" x="171.2" y="291.6">8</text>
<text class="lb" x="293" y="163.5">10</text>
<text class="lb" x="202.2" y="315.6">11</text>
<text class="lb" x="348" y="248.3">12</text>
<text class="lb" x="95.5" y="286">17</text>
<text class="lb" x="138" y="308.2">18</text>
<text class="lb" x="335" y="277.5">21</text>
<text class="lb" x="408.5" y="257">7</text>
<text class="lb" x="462.5" y="226.8">14</text>
<text class="lb" x="503" y="121">12</text>
<text class="lb" x="543" y="92">9</text>
<text class="lb" x="528.3" y="220">20</text>
<text class="lb" x="619" y="211">15</text>
<text class="lb" x="618" y="47">16</text>
<text class="lb" x="674" y="33">6</text>
<text class="lb" x="722" y="57.5">18</text>
<text class="lb" x="716" y="189.8">19</text>
<text class="lb" x="412" y="429.5">7</text>
<text class="lb" x="529.5" y="496">13</text>
<circle cx="442.6" cy="311.7" r="5.3" fill="none" stroke="#111" stroke-width="1"/>
<text x="442.7" y="314.6" text-anchor="middle" style="font-family:'Liberation Sans',sans-serif;font-size:9.5px;font-weight:bold;fill:#111">c</text>
<text x="451" y="317.2" style="font-family:'Liberation Sans',sans-serif;font-size:17.25px;fill:#111">2009 Polaris Sales Inc.</text>
</g>
</svg>
</body></html>
